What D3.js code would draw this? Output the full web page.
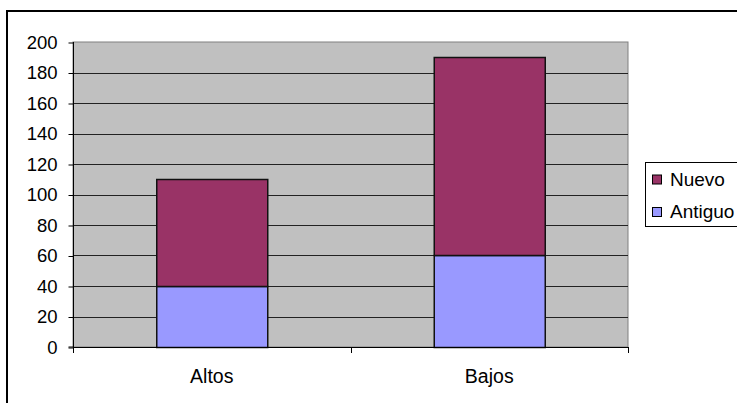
<!DOCTYPE html>
<html>
<head>
<meta charset="utf-8">
<script src="https://cdn.jsdelivr.net/npm/d3@7"></script>
<style>
  html, body { margin: 0; padding: 0; background: #fff; }
  svg { display: block; font-family: "Liberation Sans", Arial, sans-serif; }
</style>
</head>
<body>
<svg id="chart" width="737" height="403"></svg>
<script>
// Stacked columns: Antiguo at the bottom, Nuevo on top
const categories = ["Altos", "Bajos"];
const antiguo = [40, 60];
const nuevo = [70, 130];
const seriesNames = ["Antiguo", "Nuevo"];
const yTicks = [0, 20, 40, 60, 80, 100, 120, 140, 160, 180, 200];

const colors = { Antiguo: "#9999ff", Nuevo: "#993366" };

const svg = d3.select("#chart");
const W = 737, H = 403;

// Outer chart frame (extends past the right and bottom edges)
svg.append("path")
  .attr("d", `M7,${H + 5} L7,11 L${W + 5},11`)
  .attr("fill", "none").attr("stroke", "#000").attr("stroke-width", 2);

const plot = { left: 73, right: 628, top: 42, bottom: 347 };

const x = d3.scaleBand().domain(categories)
  .range([plot.left, plot.right]).paddingInner(0.6).paddingOuter(0.3);
const xBand = d3.scaleBand().domain(categories).range([plot.left, plot.right]);
const y = d3.scaleLinear().domain([0, 200]).range([plot.bottom, plot.top]);

// Plot area background
svg.append("rect")
  .attr("x", plot.left).attr("y", plot.top)
  .attr("width", plot.right - plot.left).attr("height", plot.bottom - plot.top)
  .attr("fill", "#c0c0c0").attr("stroke", "#808080").attr("stroke-width", 1);

// Horizontal gridlines
svg.append("g").selectAll("line")
  .data(yTicks.filter(d => d > 0 && d < 200))
  .join("line")
  .attr("x1", plot.left).attr("x2", plot.right)
  .attr("y1", d => Math.round(y(d)) + 0.5).attr("y2", d => Math.round(y(d)) + 0.5)
  .attr("stroke", "#222").attr("stroke-width", 1);

// Stacked data
const table = categories.map((c, i) => ({ cat: c, Antiguo: antiguo[i], Nuevo: nuevo[i] }));
const stack = d3.stack().keys(seriesNames)(table);

svg.append("g").selectAll("g")
  .data(stack).join("g")
  .attr("fill", d => colors[d.key])
  .selectAll("rect")
  .data(d => d).join("rect")
  .attr("x", d => x(d.data.cat) + 0.5)
  .attr("y", d => Math.round(y(d[1])) + 0.5)
  .attr("width", x.bandwidth())
  .attr("height", d => Math.round(y(d[0])) - Math.round(y(d[1])))
  .attr("stroke", "#111").attr("stroke-width", 1.5);

// Y axis
const yAxis = d3.axisLeft(y).tickValues(yTicks).tickSize(5).tickPadding(11);
const gy = svg.append("g").attr("transform", `translate(${plot.left + 0.5},0.5)`).call(yAxis);
gy.select(".domain").attr("stroke", "#000").attr("d", `M-5,${plot.bottom - 0.5}H0V${plot.top - 0.5}`);
gy.selectAll(".tick line").attr("stroke", "#000");
gy.selectAll(".tick text").attr("font-size", 18.5).attr("fill", "#000")
  .attr("font-family", "Liberation Sans, Arial, sans-serif");

// X axis line with ticks at category boundaries
const gx = svg.append("g");
gx.append("line")
  .attr("x1", plot.left).attr("x2", plot.right)
  .attr("y1", plot.bottom + 0.5).attr("y2", plot.bottom + 0.5)
  .attr("stroke", "#000");
const bounds = categories.map(c => xBand(c)).concat([plot.right]);
gx.selectAll("line.tk").data(bounds).join("line").attr("class", "tk")
  .attr("x1", d => Math.round(d) + 0.5).attr("x2", d => Math.round(d) + 0.5)
  .attr("y1", plot.bottom).attr("y2", plot.bottom + 6)
  .attr("stroke", "#000");
gx.selectAll("text").data(categories).join("text")
  .attr("x", d => xBand(d) + xBand.bandwidth() / 2)
  .attr("y", 383)
  .attr("text-anchor", "middle")
  .attr("font-size", 19.5)
  .text(d => d);

// Legend
const legend = svg.append("g");
legend.append("rect")
  .attr("x", 645.5).attr("y", 162.5).attr("width", 120).attr("height", 64)
  .attr("fill", "#fff").attr("stroke", "#000").attr("stroke-width", 1);
const legendItems = ["Nuevo", "Antiguo"];
const ly = d3.scalePoint().domain(legendItems).range([179.5, 212]);
legendItems.forEach(name => {
  legend.append("rect")
    .attr("x", 652.5).attr("y", ly(name) - 4.5).attr("width", 9).attr("height", 9)
    .attr("fill", colors[name]).attr("stroke", "#000");
  legend.append("text")
    .attr("x", 670).attr("y", ly(name) + 6)
    .attr("font-size", 19)
    .text(name);
});
</script>
</body>
</html>
